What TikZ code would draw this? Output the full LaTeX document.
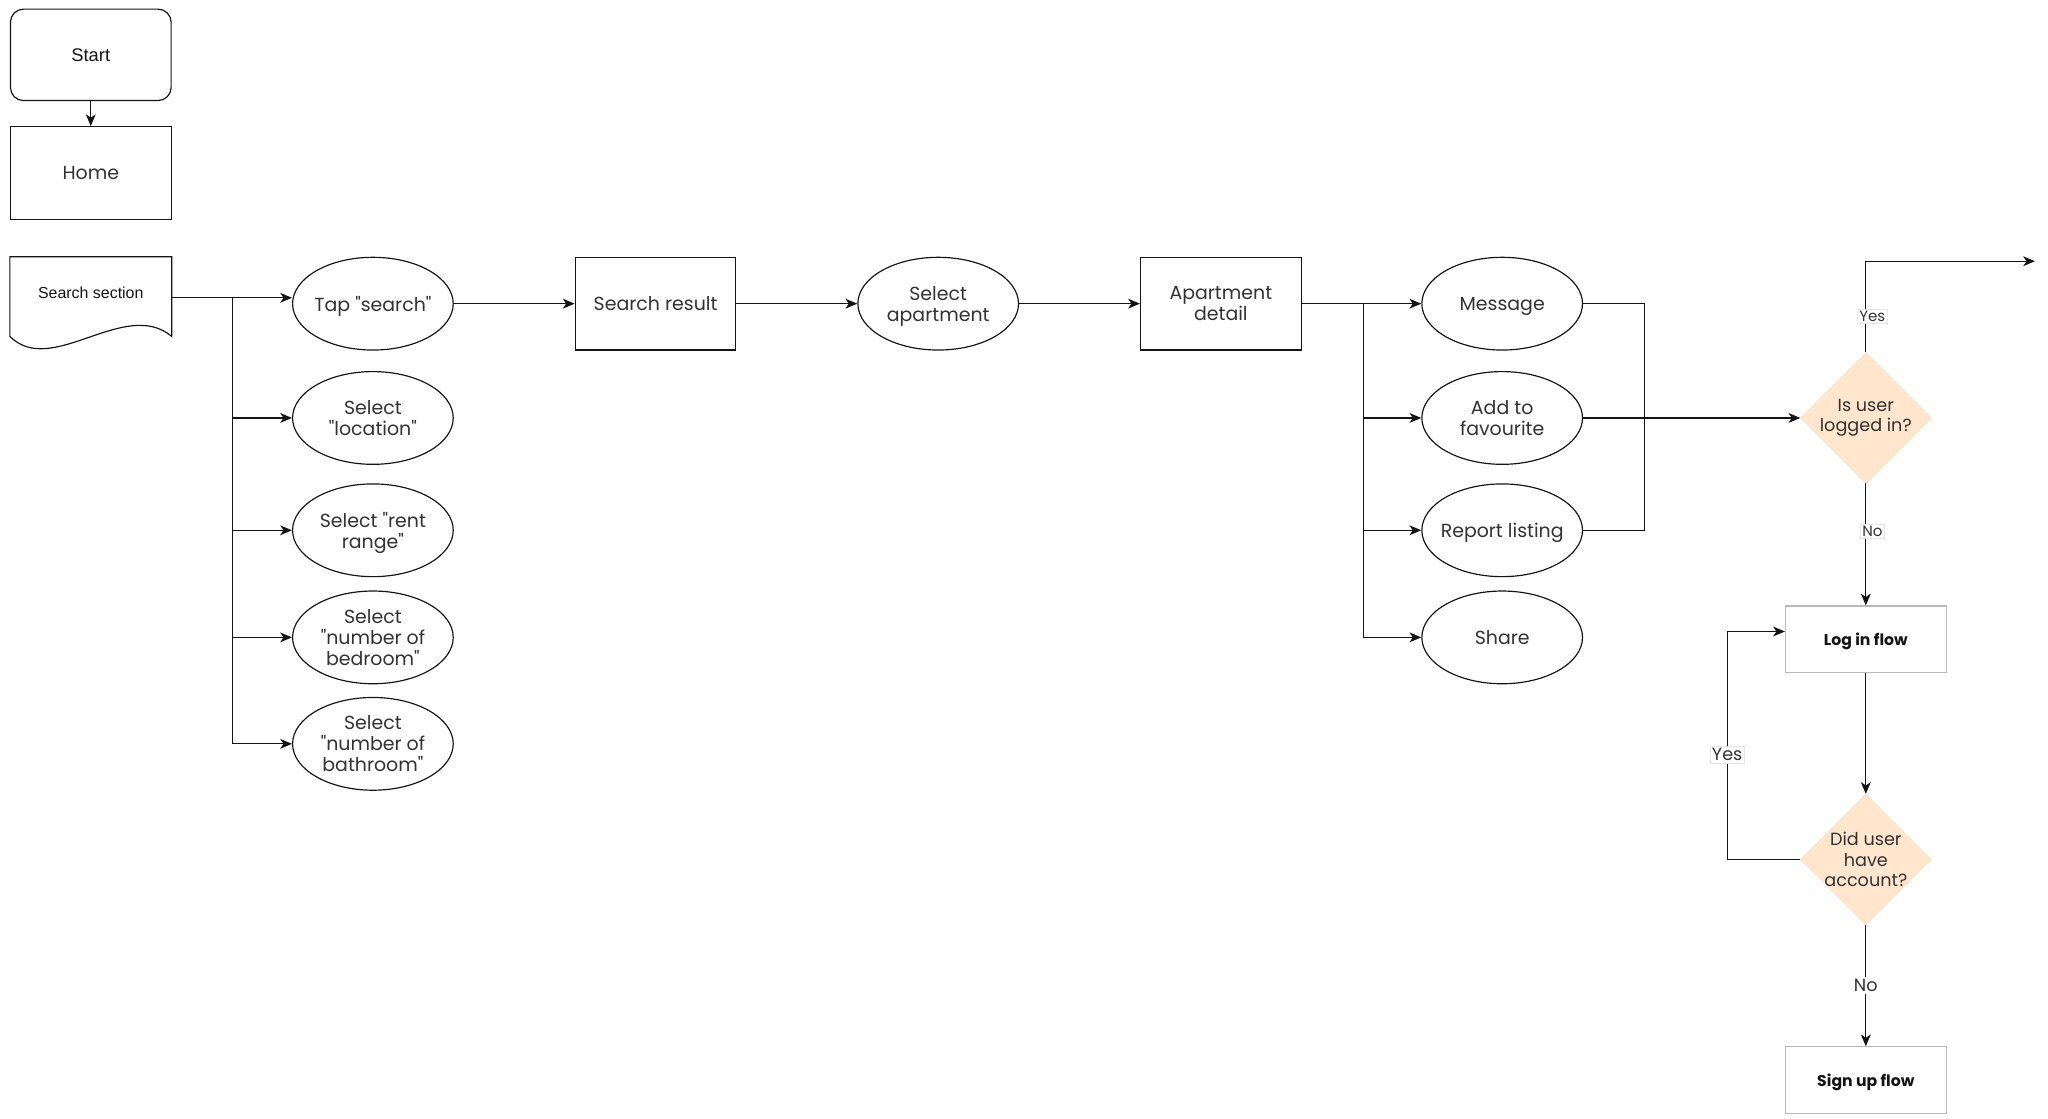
\documentclass[tikz,border=0pt]{standalone}
\usepackage{fontspec}
\setmainfont{Poppins}[Ligatures = TeXOff]
\newfontfamily\arialfont{Liberation Sans}
\usetikzlibrary{arrows.meta, positioning, shapes.geometric, calc}
\definecolor{FlowInk}{RGB}{20, 20, 20}
\definecolor{FlowText}{RGB}{50, 50, 50}
\definecolor{FlowPeach}{RGB}{255, 230, 204}
\definecolor{FlowGrey}{RGB}{185, 185, 185}

\begin{document}
\begin{tikzpicture}[
        x = 1pt, y = -1pt,
        box/.style = {
            draw = FlowInk,
            line width = 0.9pt,
            minimum width = 123pt,
            minimum height = 71pt,
            inner sep = 2pt,
            text depth = -1pt,
            align = center,
            text = FlowText,
            font = \fontsize{14.5}{16}\selectfont
        },
        oval/.style = {
            box,
            ellipse,
            inner sep = -4pt
        },
        flowbox/.style = {
            box,
            draw = FlowGrey,
            minimum height = 51pt,
            text = FlowInk,
            font = \fontsize{12}{14}\selectfont\bfseries
        },
        decision/.style = {
            diamond,
            aspect = 1,
            fill = FlowPeach,
            draw = FlowPeach!85!orange,
            line width = 0.3pt,
            minimum size = 100pt,
            inner sep = -5pt,
            align = center,
            text = FlowText,
            font = \fontsize{13.5}{15.5}\selectfont
        },
        wire/.style = {
            line width = 0.9pt,
            draw = FlowInk
        },
        arr/.style = {
            wire,
            -{Stealth[length = 9pt, width = 7.5pt, inset = 2.5pt]}
        },
        lbl/.style = {
            fill = white,
            draw = FlowGrey!35,
            line width = 0.3pt,
            inner sep = 1.5pt,
            text = FlowText,
            font = \fontsize{11.5}{12}\selectfont
        },
        node distance = 92.5pt
    ]
        \useasboundingbox (0, 0) rectangle (1568, 856);

        \node[box, rounded corners = 10pt, minimum height = 70pt, text = FlowInk,
            font = \arialfont\fontsize{14}{16}\selectfont] (start) at (69.5, 42) {Start};
        \node[box] (home) at (69.5, 132.5) {Home};
        \node[box, draw = none, minimum height = 54pt, text = FlowInk,
            font = \arialfont\fontsize{12.2}{14}\selectfont] (search) at (69.5, 224) {Search section};
        \draw[wire] (search.north west) -- (search.north east) -- ++(0, 61)
            .. controls +(-36, -30) and +(32, 32) .. ($(search.north west) + (0, 61)$) -- cycle;

        \node[oval] (tap) at (285.5, 232.5) {Tap "search"};
        \node[oval] (loc) at (285.5, 320) {Select\\"location"};
        \node[oval] (rent) at (285.5, 406) {Select "rent\\range"};
        \node[oval] (bed) at (285.5, 488) {Select\\"number of\\bedroom"};
        \node[oval] (bath) at (285.5, 569.5) {Select\\"number of\\bathroom"};

        \node[box, right = of tap] (result) {Search result};
        \node[oval, right = of result] (selapt) {Select\\apartment};
        \node[box, right = of selapt] (detail) {Apartment\\detail};
        \node[oval, right = 91.5pt of detail] (msg) {Message};
        \node[oval] (fav) at (msg |- 0, 320) {Add to\\favourite};
        \node[oval] (report) at (msg |- 0, 406) {Report listing};
        \node[oval] (share) at (msg |- 0, 488) {Share};

        \node[decision] (logged) at (1428.5, 320) {Is user\\logged in?};
        \node[flowbox] (login) at (1428.5, 489.5) {Log in flow};
        \node[decision] (account) at (1428.5, 658) {Did user\\have\\account?};
        \node[flowbox] (signup) at (1428.5, 827) {Sign up flow};

        \coordinate (pick) at (178, 228);
        \coordinate[right = 47pt of detail.east] (fan);
        \coordinate[right = 47pt of fav.east] (merge);
        \coordinate (exit) at (1558, 200);
        \coordinate[left = 56pt of account.west] (back);
        \coordinate (loginin) at ($(login.west) + (0, -6)$);

        \draw[arr] (start) -- (home);
        \draw[arr] (search.east |- pick) -- (tap.west |- pick);
        \draw[arr] (pick) |- (loc.west);
        \draw[arr] (pick) |- (rent.west);
        \draw[arr] (pick) |- (bed.west);
        \draw[arr] (pick) |- (bath.west);

        \draw[arr] (tap) -- (result);
        \draw[arr] (result) -- (selapt);
        \draw[arr] (selapt) -- (detail);
        \draw[arr] (detail) -- (msg);
        \draw[arr] (fan) |- (fav.west);
        \draw[arr] (fan) |- (report.west);
        \draw[arr] (fan) |- (share.west);

        \draw[wire] (msg.east) -| (merge);
        \draw[wire] (report.east) -| (merge);
        \draw[arr] (fav.east) -- (logged.west);

        \draw[arr] (logged.north) |- node[lbl, pos = 0.2, xshift = 5pt] {Yes} (exit);
        \draw[arr] (logged) -- node[lbl, pos = 0.39, xshift = 5pt] {No} (login);
        \draw[arr] (login) -- (account);
        \draw[arr] (account.west) -- (back) -- node[lbl, pos = 0.46, font = \fontsize{13.5}{14}\selectfont] {Yes} (back |- loginin) -- (loginin);
        \draw[arr] (account) -- node[lbl, draw = none, font = \fontsize{13.5}{14}\selectfont] {No} (signup);
    \end{tikzpicture}
\end{document}
